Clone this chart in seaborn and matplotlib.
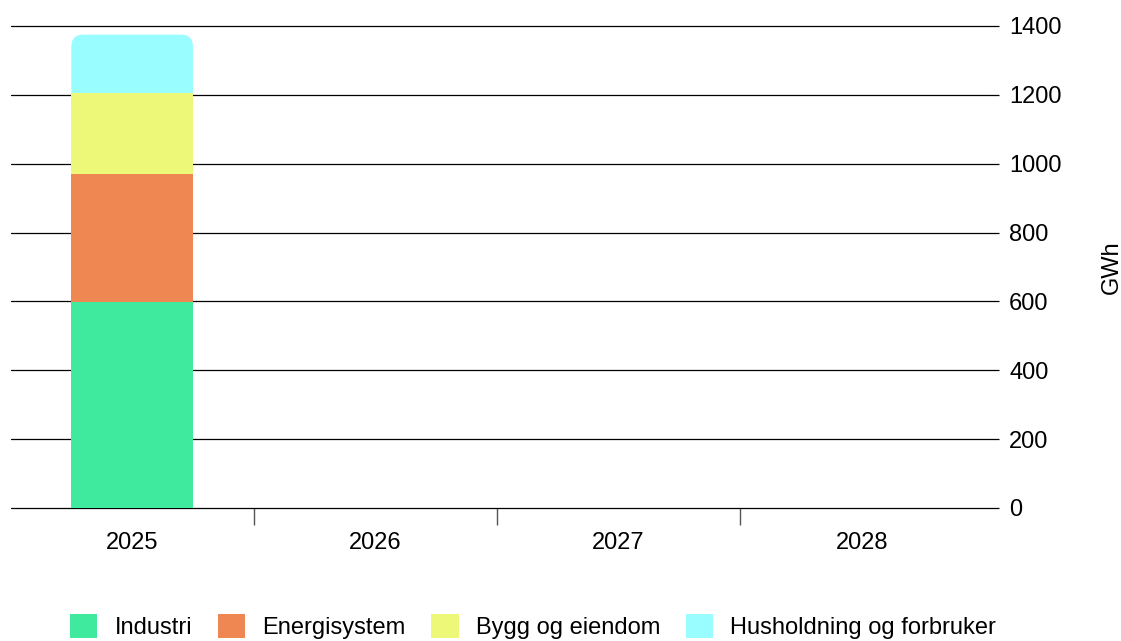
import numpy as np
import pandas as pd
import matplotlib.pyplot as plt
import seaborn as sns
from matplotlib.patches import FancyBboxPatch

# Data (GWh) - only 2025 has values
years = ["2025", "2026", "2027", "2028"]
series = ["Industri", "Energisystem", "Bygg og eiendom", "Husholdning og forbruker"]
industri = [598, np.nan, np.nan, np.nan]
energisystem = [372, np.nan, np.nan, np.nan]
bygg = [235, np.nan, np.nan, np.nan]
husholdning = [170, np.nan, np.nan, np.nan]
colors = ["#3fea9f", "#ee8752", "#eef878", "#99fdff"]

sns.set_style("white")
plt.rcParams["font.family"] = ["Liberation Sans", "DejaVu Sans"]
plt.rcParams["text.color"] = "black"
plt.rcParams["xtick.color"] = "black"
plt.rcParams["ytick.color"] = "black"
plt.rcParams["axes.labelcolor"] = "black"
FS = 17

fig = plt.figure(figsize=(11.21, 6.41), dpi=100)
ax = fig.add_axes([10.5 / 1121, 133 / 641, 973 / 1121, 482 / 641])

values = [industri, energisystem, bygg, husholdning]
bottom = np.zeros(len(years))
for name, vals, col in zip(series, values, colors):
    vals = np.array(vals, dtype=float)
    keep = ~np.isnan(vals)
    df = pd.DataFrame({"year": years, "value": vals})[keep]
    sns.barplot(data=df, x="year", y="value", order=years, bottom=bottom[keep],
                color=col, width=0.5, linewidth=0, saturation=1, ax=ax,
                label=name, zorder=3)
    bottom = bottom + np.nan_to_num(vals)

ax.set_xlim(-0.5, 3.5)
ax.set_ylim(0, 1400)
ax.set_yticks(range(0, 1401, 200))
ax.yaxis.tick_right()
ax.yaxis.set_label_position("right")
ax.grid(axis="y", color="black", linewidth=0.9, zorder=0)
for gl in ax.get_ygridlines():
    gl.set_clip_on(False)
ax.tick_params(axis="y", length=10.5, width=0.9, color="black", pad=8,
               labelsize=FS, left=False)
for s in ax.spines.values():
    s.set_visible(False)

ax.set_xticks([0.5, 1.5, 2.5], minor=True)
ax.tick_params(axis="x", which="major", length=0, pad=17, labelsize=FS)
ax.tick_params(axis="x", which="minor", bottom=True, length=12, width=1,
               color="#555555")
ax.set_xlabel("")
ax.set_ylabel("GWh", fontsize=FS, labelpad=28)

handles, labels = ax.get_legend_handles_labels()
ax.legend(handles, labels, loc="lower left", bbox_to_anchor=(49 / 1121, -0.03),
          bbox_transform=fig.transFigure, ncol=4, frameon=False, fontsize=FS,
          handlelength=1.15, handleheight=1.15, handletextpad=0.72,
          columnspacing=1.1)

# round the top corners of the top segment (after legend so its handle keeps the colour)
top = ax.patches[-1]
x0, w = top.get_x(), top.get_width()
h_total = top.get_y() + top.get_height()
rounded = FancyBboxPatch((x0, 0), w, h_total,
                         boxstyle="round,pad=0,rounding_size=0.05",
                         mutation_aspect=700, facecolor=colors[-1],
                         linewidth=0, zorder=2)
top.set_visible(False)
ax.add_patch(rounded)

fig.savefig("out.png", dpi=100)
